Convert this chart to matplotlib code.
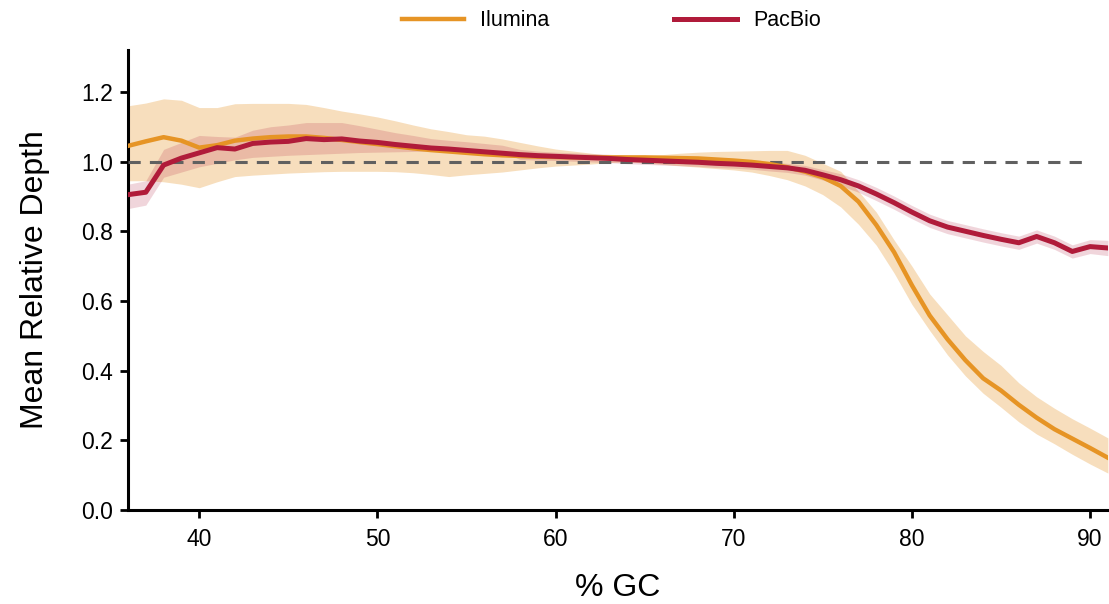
import matplotlib
matplotlib.use("Agg")
import matplotlib.pyplot as plt
import numpy as np

plt.rcParams['font.family'] = ['Liberation Sans', 'DejaVu Sans']

gc = list(range(36, 92))

illumina_mean = [1.045, 1.058, 1.070, 1.060, 1.040, 1.047, 1.060, 1.066, 1.070, 1.072,
                 1.072, 1.068, 1.062, 1.056, 1.050, 1.044, 1.038, 1.033, 1.029, 1.025,
                 1.021, 1.018, 1.016, 1.014, 1.013, 1.012, 1.012, 1.012, 1.012, 1.012,
                 1.011, 1.010, 1.009, 1.006, 1.003, 0.999, 0.993, 0.984, 0.971, 0.955,
                 0.930, 0.885, 0.818, 0.740, 0.645, 0.558, 0.490, 0.430, 0.378, 0.343,
                 0.302, 0.265, 0.232, 0.205, 0.178, 0.150]
illumina_upper = [1.160, 1.168, 1.180, 1.176, 1.155, 1.155, 1.166, 1.167, 1.167, 1.167,
                  1.164, 1.155, 1.145, 1.137, 1.128, 1.117, 1.105, 1.094, 1.086, 1.077,
                  1.073, 1.065, 1.055, 1.045, 1.036, 1.030, 1.024, 1.018, 1.015, 1.017,
                  1.020, 1.024, 1.027, 1.029, 1.030, 1.031, 1.032, 1.032, 1.018, 0.995,
                  0.972, 0.915, 0.855, 0.775, 0.700, 0.620, 0.560, 0.500, 0.455, 0.415,
                  0.365, 0.325, 0.292, 0.262, 0.235, 0.207]
illumina_lower = [0.945, 0.945, 0.942, 0.935, 0.925, 0.942, 0.957, 0.961, 0.964, 0.967,
                  0.969, 0.971, 0.972, 0.972, 0.972, 0.971, 0.968, 0.963, 0.957, 0.962,
                  0.966, 0.970, 0.976, 0.982, 0.987, 0.990, 0.993, 0.997, 0.999, 0.996,
                  0.992, 0.988, 0.984, 0.980, 0.976, 0.970, 0.960, 0.948, 0.930, 0.905,
                  0.870, 0.820, 0.760, 0.680, 0.590, 0.515, 0.445, 0.385, 0.335, 0.295,
                  0.253, 0.218, 0.190, 0.160, 0.132, 0.106]

pacbio_mean = [0.905, 0.912, 0.990, 1.010, 1.025, 1.040, 1.036, 1.052, 1.056, 1.058,
               1.066, 1.063, 1.065, 1.059, 1.055, 1.049, 1.044, 1.039, 1.036, 1.032,
               1.028, 1.024, 1.020, 1.017, 1.015, 1.013, 1.011, 1.009, 1.006, 1.004,
               1.002, 1.000, 0.998, 0.995, 0.993, 0.990, 0.986, 0.982, 0.975, 0.962,
               0.948, 0.930, 0.907, 0.882, 0.855, 0.830, 0.812, 0.800, 0.788, 0.777,
               0.767, 0.785, 0.767, 0.742, 0.756, 0.752]
pacbio_upper = [0.935, 0.945, 1.035, 1.055, 1.075, 1.072, 1.070, 1.090, 1.100, 1.105,
                1.112, 1.112, 1.112, 1.103, 1.093, 1.083, 1.075, 1.066, 1.061, 1.057,
                1.052, 1.047, 1.035, 1.030, 1.027, 1.025, 1.023, 1.021, 1.018, 1.016,
                1.014, 1.012, 1.010, 1.007, 1.005, 1.002, 0.999, 0.995, 0.989, 0.977,
                0.965, 0.948, 0.926, 0.901, 0.874, 0.849, 0.831, 0.819, 0.807, 0.796,
                0.786, 0.804, 0.786, 0.761, 0.776, 0.774]
pacbio_lower = [0.865, 0.875, 0.955, 0.970, 0.985, 0.995, 1.005, 1.012, 1.015, 1.018,
                1.020, 1.022, 1.024, 1.026, 1.027, 1.028, 1.029, 1.030, 1.031, 1.031,
                1.031, 1.030, 1.006, 1.004, 1.003, 1.001, 0.999, 0.997, 0.994, 0.992,
                0.990, 0.988, 0.986, 0.983, 0.981, 0.978, 0.973, 0.969, 0.961, 0.947,
                0.931, 0.912, 0.888, 0.863, 0.836, 0.811, 0.793, 0.781, 0.769, 0.758,
                0.748, 0.766, 0.748, 0.723, 0.736, 0.730]

xticks = [40, 50, 60, 70, 80, 90]
yticks = [0.0, 0.2, 0.4, 0.6, 0.8, 1.0, 1.2]

orange = '#E69425'
red = '#B01B3A'

fig = plt.figure(figsize=(11.09, 6.04), dpi=100)
ax = fig.add_axes([0.1154, 0.1556, 0.8836, 0.7615])

ax.fill_between(gc, illumina_lower, illumina_upper, color=orange, alpha=0.3, lw=0)
ax.fill_between(gc, pacbio_lower, pacbio_upper, color=red, alpha=0.18, lw=0)
ax.plot([36, 90], [1.0, 1.0], color='#606060', lw=2.2, ls=(0, (4, 3)), zorder=3)
ax.plot(gc, illumina_mean, color=orange, lw=3.2, label='Ilumina', zorder=4)
ax.plot(gc, pacbio_mean, color=red, lw=3.6, label='PacBio', zorder=5)

ax.set_xlim(36, 91)
ax.set_ylim(0, 1.32)
ax.set_xticks(xticks)
ax.set_yticks(yticks)
ax.set_yticklabels([f'{v:.1f}' for v in yticks])
for s in ['top', 'right']:
    ax.spines[s].set_visible(False)
for s in ['left', 'bottom']:
    ax.spines[s].set_linewidth(2.2)
ax.tick_params(axis='both', which='major', labelsize=16.5, width=2.0, length=6)
ax.tick_params(axis='x', pad=7)
ax.tick_params(axis='y', pad=5)

ax.set_xlabel('% GC', fontsize=23, labelpad=16)
ax.set_ylabel('Mean Relative Depth', fontsize=23, labelpad=22)

fig.legend(loc='upper center', bbox_to_anchor=(0.551, 1.015), ncol=2, frameon=False,
           fontsize=15.5, handlelength=2.9, handletextpad=0.75, columnspacing=5.8)

fig.savefig('out.png', dpi=100)
